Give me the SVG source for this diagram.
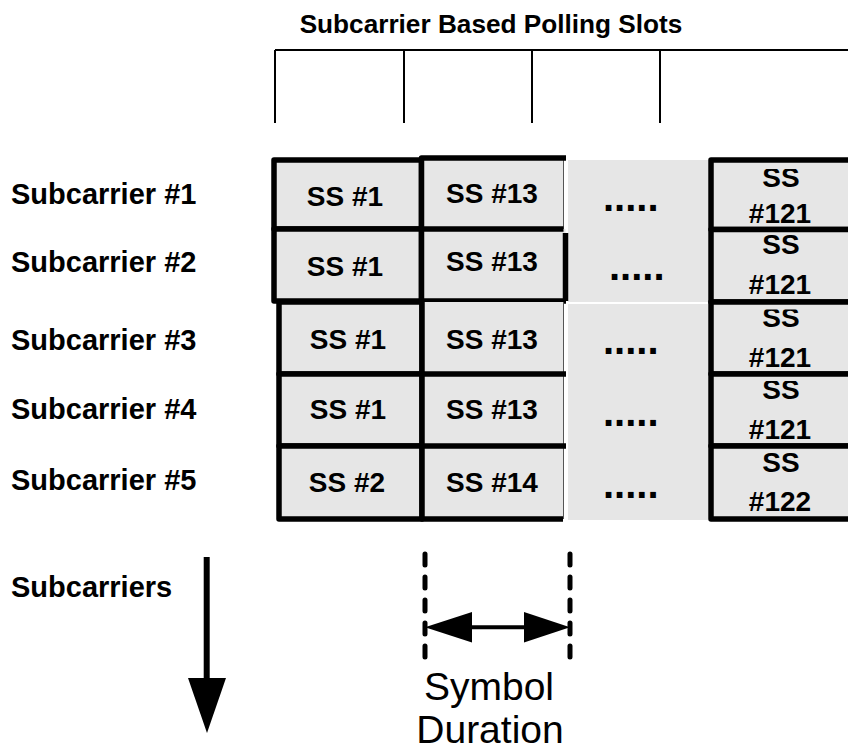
<svg xmlns="http://www.w3.org/2000/svg" width="848" height="756" viewBox="0 0 848 756">
<style>
.b{font-family:"Liberation Sans",Arial,sans-serif;font-weight:bold;fill:#000}
.lab{font-size:29px}
.cell{font-size:28px;text-anchor:middle}
.dots{font-size:40px}
.reg{font-family:"Liberation Sans",Arial,sans-serif;font-size:39px;text-anchor:middle;fill:#000}
.fill{fill:#e6e6e6;stroke:none}
.thick{fill:none;stroke:#000;stroke-width:5.5;stroke-linejoin:round}
.thin{fill:none;stroke:#555;stroke-width:1}
.hdr{fill:none;stroke:#000;stroke-width:2}
</style>
<defs>
<clipPath id="k1"><rect x="700" y="169" width="160" height="60"/></clipPath>
<clipPath id="k2"><rect x="700" y="235" width="160" height="66"/></clipPath>
<clipPath id="k3"><rect x="700" y="309.5" width="160" height="64"/></clipPath>
<clipPath id="k4"><rect x="700" y="381" width="160" height="64"/></clipPath>
<clipPath id="k5"><rect x="700" y="453" width="160" height="64"/></clipPath>
</defs>
<rect width="848" height="756" fill="#fff"/>

<g id="title">
<text class="b" x="491" y="33" font-size="26.2" text-anchor="middle">Subcarrier Based Polling Slots</text>
<path class="hdr" d="M275,50 H848 M275,50 V123 M404,50 V123 M532,50 V123 M660,50 V123"/>
</g>

<g id="labels">
<text class="b lab" x="11" y="204">Subcarrier #1</text>
<text class="b lab" x="11" y="272">Subcarrier #2</text>
<text class="b lab" x="11" y="350">Subcarrier #3</text>
<text class="b lab" x="11" y="419">Subcarrier #4</text>
<text class="b lab" x="11" y="490">Subcarrier #5</text>
<text class="b lab" x="11" y="597">Subcarriers</text>
</g>

<g id="gap">
<rect class="fill" x="568" y="160" width="140" height="142"/>
<rect class="fill" x="568" y="304" width="140" height="216"/>
<text class="b dots" x="603" y="211">.....</text>
<text class="b dots" x="609" y="280">.....</text>
<text class="b dots" x="603" y="354">.....</text>
<text class="b dots" x="603" y="426">.....</text>
<text class="b dots" x="603" y="498">.....</text>
</g>

<g id="c11"><rect class="fill" x="274" y="160" width="147.5" height="69"/><rect class="thick" x="274" y="160" width="147.5" height="69"/><text class="b cell" x="345" y="206">SS #1</text></g>
<g id="c21"><rect class="fill" x="274" y="229" width="147.5" height="72"/><rect class="thick" x="274" y="229" width="147.5" height="72"/><text class="b cell" x="345" y="276">SS #1</text></g>
<g id="c31"><rect class="fill" x="279" y="302" width="143" height="72"/><rect class="thick" x="279" y="302" width="143" height="72"/><text class="b cell" x="348" y="349">SS #1</text></g>
<g id="c41"><rect class="fill" x="279" y="374" width="143" height="72"/><rect class="thick" x="279" y="374" width="143" height="72"/><text class="b cell" x="348" y="419">SS #1</text></g>
<g id="c51"><rect class="fill" x="279" y="446" width="143" height="73"/><rect class="thick" x="279" y="446" width="143" height="73"/><text class="b cell" x="347" y="492">SS #2</text></g>

<g id="c12"><rect class="fill" x="421.5" y="158" width="142" height="71"/><path class="thin" d="M563.5,158 V229"/><path class="thick" d="M421.5,229 V158 H566"/><text class="b cell" x="492" y="203">SS #13</text></g>
<g id="c22"><rect class="fill" x="421.5" y="229" width="144" height="72"/><path class="thick" d="M421.5,229 H563.5 M565.5,233 V301 M421.5,229 V301 H566"/><text class="b cell" x="492" y="271">SS #13</text></g>
<g id="c32"><rect class="fill" x="422" y="302" width="141.5" height="72"/><path class="thin" d="M563.5,302 V374"/><path class="thick" d="M422,374 V302"/><text class="b cell" x="492" y="349">SS #13</text></g>
<g id="c42"><rect class="fill" x="422" y="374" width="141.5" height="72"/><path class="thin" d="M563.5,374 V446"/><path class="thick" d="M422,374 H566 M422,446 V374"/><text class="b cell" x="492" y="419">SS #13</text></g>
<g id="c52"><rect class="fill" x="422" y="446" width="141.5" height="73"/><path class="thin" d="M563.5,446 V519"/><path class="thick" d="M422,446 H566 M422,446 V519 H563"/><text class="b cell" x="492" y="492">SS #14</text></g>

<g id="c15"><rect class="fill" x="711" y="160" width="150" height="69.5"/><rect class="thick" x="711" y="160" width="150" height="69.5"/><g clip-path="url(#k1)"><text class="b cell" x="781" y="187">SS</text></g><text class="b cell" x="780" y="223">#121</text></g>
<g id="c25"><rect class="fill" x="711" y="229.5" width="150" height="72.5"/><rect class="thick" x="711" y="229.5" width="150" height="72.5"/><g clip-path="url(#k2)"><text class="b cell" x="781" y="254">SS</text></g><text class="b cell" x="780" y="294">#121</text></g>
<g id="c35"><rect class="fill" x="711" y="302" width="150" height="72"/><rect class="thick" x="711" y="302" width="150" height="72"/><g clip-path="url(#k3)"><text class="b cell" x="781" y="327">SS</text></g><text class="b cell" x="780" y="367">#121</text></g>
<g id="c45"><rect class="fill" x="711" y="374" width="150" height="72"/><rect class="thick" x="711" y="374" width="150" height="72"/><g clip-path="url(#k4)"><text class="b cell" x="781" y="399">SS</text></g><text class="b cell" x="780" y="439">#121</text></g>
<g id="c55"><rect class="fill" x="711" y="446" width="150" height="73"/><rect class="thick" x="711" y="446" width="150" height="73"/><g clip-path="url(#k5)"><text class="b cell" x="781" y="472">SS</text></g><text class="b cell" x="780" y="511">#122</text></g>

<g id="connectors">
<path d="M206.7,557 V680" stroke="#000" stroke-width="6" fill="none"/>
<polygon points="188,678 226,678 207,733" fill="#000"/>
<path d="M425,554 V662 M570,554 V662" stroke="#000" stroke-width="5" stroke-linecap="round" stroke-dasharray="11 12" fill="none"/>
<path d="M465,627.3 H530" stroke="#000" stroke-width="4" fill="none"/>
<polygon points="425,627.3 472,612 472,642.5" fill="#000"/>
<polygon points="570,627.3 524,612 524,642.5" fill="#000"/>
</g>

<g id="duration">
<text class="reg" x="489" y="700">Symbol</text>
<text class="reg" x="490" y="743">Duration</text>
</g>
</svg>
